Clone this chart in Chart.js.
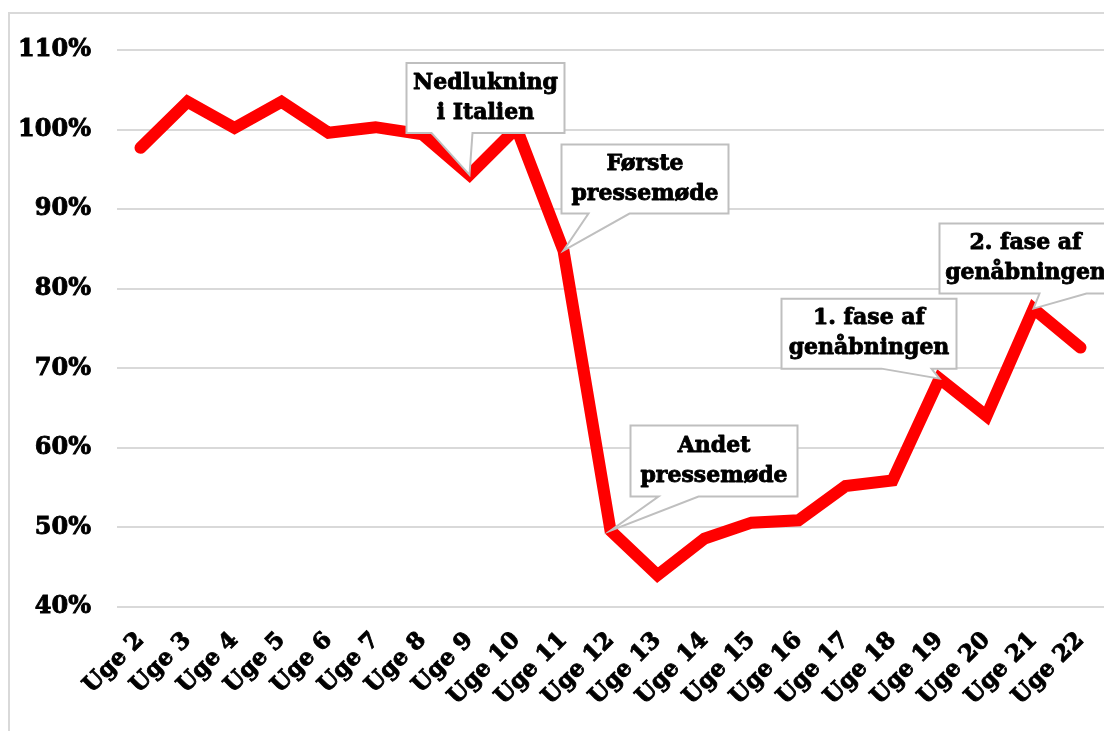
<!DOCTYPE html>
<html><head><meta charset="utf-8">
<script src="https://cdn.jsdelivr.net/npm/chart.js@4.4.1/dist/chart.umd.min.js"></script>
<style>html,body{margin:0;padding:0;background:#fff;}#wrap{position:relative;width:1104px;height:731px;}</style>
</head><body><div id="wrap"><canvas id="c" width="1104" height="731"></canvas></div>
<script>
const categories = ["Uge 2","Uge 3","Uge 4","Uge 5","Uge 6","Uge 7","Uge 8","Uge 9","Uge 10","Uge 11","Uge 12","Uge 13","Uge 14","Uge 15","Uge 16","Uge 17","Uge 18","Uge 19","Uge 20","Uge 21","Uge 22"];
const values = [97.7,103.5,100.2,103.5,99.6,100.3,99.4,94.3,100.2,84.8,49.6,44.0,48.6,50.6,50.9,55.2,55.9,68.7,64.0,77.5,72.6];
const yTicks = [40,50,60,70,80,90,100,110];
const annotationLabels = [
  {cat:"Uge 9", lines:["Nedlukning","i Italien"]},
  {cat:"Uge 11", lines:["Første","pressemøde"]},
  {cat:"Uge 12", lines:["Andet","pressemøde"]},
  {cat:"Uge 19", lines:["1. fase af","genåbningen"]},
  {cat:"Uge 21", lines:["2. fase af","genåbningen"]}
];
// layout of callouts relative to their anchored point (pixels)
const calloutLayout = [
  {dx:-63, dy:-112, w:158, h:70, ta:-38, tb:3},
  {dx:-2, dy:-106, w:167, h:69, ta:25, tb:66},
  {dx:20, dy:-105, w:167, h:71, ta:48, tb:88},
  {dx:-158, dy:-80, w:175, h:70, ta:-58, tb:-8},
  {dx:-94, dy:-85, w:172, h:70, ta:6, tb:53}
];
const FONT = "'DejaVu Serif', serif";

const calloutPlugin = {
  id:'callouts',
  beforeDraw(chart){
    const ctx = chart.ctx;
    ctx.save();
    ctx.strokeStyle = '#D9D9D9';
    ctx.lineWidth = 2;
    ctx.beginPath();
    ctx.moveTo(9, 731); ctx.lineTo(9, 13); ctx.lineTo(1104, 13);
    ctx.stroke();
    ctx.restore();
  },
  afterDatasetsDraw(chart){
    const ctx = chart.ctx;
    const xs = chart.scales.x, ys = chart.scales.y;
    annotationLabels.forEach((a, i) => {
      const idx = categories.indexOf(a.cat);
      const px = xs.getPixelForValue(idx);
      const py = ys.getPixelForValue(values[idx]);
      const L = calloutLayout[i];
      const x0 = px + L.dx, y0 = py + L.dy, x1 = x0 + L.w, y1 = y0 + L.h;
      ctx.save();
      ctx.beginPath();
      ctx.moveTo(x0, y0); ctx.lineTo(x1, y0); ctx.lineTo(x1, y1);
      ctx.lineTo(px + L.tb, y1); ctx.lineTo(px, py); ctx.lineTo(px + L.ta, y1);
      ctx.lineTo(x0, y1); ctx.closePath();
      ctx.fillStyle = '#fff'; ctx.fill();
      ctx.strokeStyle = '#BFBFBF'; ctx.lineWidth = 2; ctx.lineJoin = 'miter'; ctx.stroke();
      ctx.fillStyle = '#000'; ctx.strokeStyle = '#000'; ctx.lineWidth = 0.9; ctx.lineJoin = 'round';
      ctx.font = "bold 22px " + FONT;
      ctx.textAlign = 'center'; ctx.textBaseline = 'middle';
      const cx = (x0 + x1) / 2, cy = (y0 + y1) / 2;
      ctx.fillText(a.lines[0], cx, cy - 15); ctx.strokeText(a.lines[0], cx, cy - 15);
      ctx.fillText(a.lines[1], cx, cy + 15); ctx.strokeText(a.lines[1], cx, cy + 15);
      ctx.restore();
    });
  }
};

new Chart(document.getElementById('c'), {
  type:'line',
  data:{labels:categories, datasets:[{data:values, borderColor:'#FF0000', borderWidth:12, pointRadius:0, tension:0, borderCapStyle:'round', borderJoinStyle:'miter', fill:false}]},
  options:{
    responsive:false, animation:false, devicePixelRatio:1,
    layout:{padding:{top:50, right:0, left:0, bottom:0}},
    plugins:{legend:{display:false}, tooltip:{enabled:false}, title:{display:false}},
    scales:{
      x:{
        offset:true,
        grid:{display:false, drawTicks:false},
        border:{display:false},
        ticks:{color:'#000', textStrokeColor:'#000', textStrokeWidth:0.9, font:{family:FONT, size:23, weight:'bold'}, minRotation:45, maxRotation:45, autoSkip:false, padding:20},
        afterFit(s){ s.height = 124; s.paddingRight = 0; s.paddingLeft = 0; }
      },
      y:{
        min:40, max:110,
        afterBuildTicks(s){ s.ticks = yTicks.map(v => ({value:v})); },
        grid:{color:'#D9D9D9', lineWidth:2, drawTicks:false},
        border:{display:false},
        ticks:{color:'#000', textStrokeColor:'#000', textStrokeWidth:0.9, font:{family:FONT, size:24, weight:'bold'}, padding:26, callback:v => v + '%'},
        afterFit(s){ s.width = 117; s.paddingTop = 0; s.paddingBottom = 0; }
      }
    }
  },
  plugins:[calloutPlugin]
});
</script></body></html>
